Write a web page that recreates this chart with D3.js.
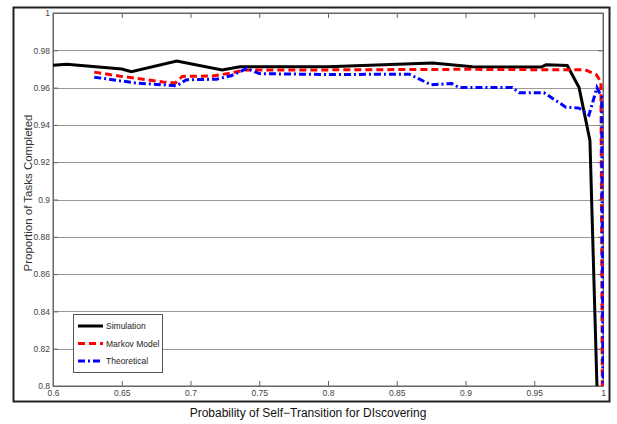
<!DOCTYPE html>
<html>
  <head>
    <script type="text/javascript" src="https://cdn.jsdelivr.net/npm/d3@7"></script>
    <style>
      body { margin: 0; background: #fff; }
      text { font-family: "Liberation Sans", Arial, sans-serif; }
    </style>
  </head>
  <body>
  <script type='text/javascript'>

    // data: [x, proportion]
    var simulation = [[0.6,0.9720],[0.61,0.9725],[0.65,0.9700],[0.657,0.9685],[0.69,0.9742],
      [0.723,0.9695],[0.736,0.9712],[0.80,0.9712],[0.876,0.9732],[0.905,0.9712],[0.955,0.9710],
      [0.9586,0.9722],[0.974,0.9718],[0.9826,0.960],[0.9905,0.9317],[0.9956,0.80]];
    var markov = [[0.63,0.9683],[0.65,0.9660],[0.68,0.9630],[0.689,0.9625],[0.694,0.9660],
      [0.716,0.9662],[0.731,0.968],[0.74,0.9695],[0.8,0.9695],[0.9,0.9698],[0.987,0.9695],
      [0.995,0.967],[0.9985,0.963],[0.9995,0.8]];
    var theoretical = [[0.63,0.9656],[0.66,0.9625],[0.69,0.9610],[0.697,0.9642],[0.719,0.9645],
      [0.73,0.9665],[0.741,0.9703],[0.750,0.9675],[0.80,0.9670],[0.859,0.9672],[0.875,0.9615],
      [0.89,0.9622],[0.8955,0.960],[0.934,0.960],[0.939,0.9573],[0.957,0.9573],[0.973,0.9495],
      [0.9826,0.949],[0.9898,0.9453],[0.9956,0.960],[0.999,0.955],[1.0,0.8]];
    var xTicks = [0.6,0.65,0.7,0.75,0.8,0.85,0.9,0.95,1];
    var yTicks = [0.8,0.82,0.84,0.86,0.88,0.9,0.92,0.94,0.96,0.98,1];
    var seriesNames = ["Simulation","Markov Model","Theoretical"];

    var W = 617, H = 424;
    var plotLeft = 53, plotRight = 603, plotTop = 13, plotBottom = 386;

    var svg = d3.select("body").append("svg")
        .attr("width", W)
        .attr("height", H);

    // outer figure frame
    svg.append("rect")
        .attr("x", 13.5).attr("y", 7.5)
        .attr("width", 596).attr("height", 394)
        .attr("fill", "#fff")
        .attr("stroke", "#222")
        .attr("stroke-width", 2);

    var x = d3.scaleLinear().domain([0.6, 1]).range([plotLeft, plotRight]);
    var y = d3.scaleLinear().domain([0.8, 1]).range([plotBottom, plotTop]);

    // horizontal grid
    svg.append("g").selectAll("line").data(yTicks.slice(1, -1)).enter()
      .append("line")
        .attr("x1", plotLeft).attr("x2", plotRight)
        .attr("y1", function(d){ return Math.round(y(d)) + 0.5; })
        .attr("y2", function(d){ return Math.round(y(d)) + 0.5; })
        .attr("stroke", "#999")
        .attr("stroke-width", 1);

    var fmt = function(d){ return d3.format("")(+d.toFixed(2)); };

    // axes, ticks pointing inward
    var xAxis = svg.append("g")
        .attr("transform", "translate(0," + plotBottom + ")")
        .call(d3.axisBottom(x).tickValues(xTicks).tickSizeInner(-5).tickSizeOuter(0).tickFormat(fmt));
    svg.append("g")
        .attr("transform", "translate(0," + plotTop + ")")
        .call(d3.axisTop(x).tickValues(xTicks).tickSizeInner(-5).tickSizeOuter(0).tickFormat(""));
    var yAxis = svg.append("g")
        .attr("transform", "translate(" + plotLeft + ",0)")
        .call(d3.axisLeft(y).tickValues(yTicks).tickSizeInner(-5).tickSizeOuter(0).tickFormat(fmt));
    svg.append("g")
        .attr("transform", "translate(" + plotRight + ",0)")
        .call(d3.axisRight(y).tickValues(yTicks).tickSizeInner(-5).tickSizeOuter(0).tickFormat(""));

    svg.selectAll(".domain").attr("stroke", "#666");
    svg.selectAll(".tick line").attr("stroke", "#666");
    svg.selectAll(".tick text")
        .attr("fill", "#444")
        .style("font-size", "8.5px");
    xAxis.selectAll(".tick text").attr("y", 4).attr("dy", "0.71em");
    yAxis.selectAll(".tick text").attr("x", -3);

    // plot box
    svg.append("rect")
        .attr("x", plotLeft).attr("y", plotTop)
        .attr("width", plotRight - plotLeft).attr("height", plotBottom - plotTop)
        .attr("fill", "none")
        .attr("stroke", "#666");

    svg.append("clipPath").attr("id", "clip")
      .append("rect")
        .attr("x", plotLeft).attr("y", plotTop)
        .attr("width", plotRight - plotLeft + 1).attr("height", plotBottom - plotTop);

    var line = d3.line()
        .x(function(d){ return x(d[0]); })
        .y(function(d){ return y(d[1]); });

    var styles = [
      {color: "#000", dash: null, width: 3},
      {color: "#f00", dash: "7,4", width: 3},
      {color: "#00f", dash: "7,3,2,3", width: 3}
    ];
    var allSeries = [simulation, markov, theoretical];

    var plot = svg.append("g").attr("clip-path", "url(#clip)");
    allSeries.forEach(function(s, i){
      plot.append("path")
          .datum(s)
          .attr("d", line)
          .attr("fill", "none")
          .attr("stroke", styles[i].color)
          .attr("stroke-width", styles[i].width)
          .attr("stroke-dasharray", styles[i].dash);
    });

    // legend
    var lg = svg.append("g");
    lg.append("rect")
        .attr("x", 73.5).attr("y", 314.5)
        .attr("width", 89).attr("height", 58)
        .attr("fill", "#fff")
        .attr("stroke", "#555");
    seriesNames.forEach(function(name, i){
      var ly = 326 + i * 17.5;
      lg.append("line")
          .attr("x1", 78).attr("x2", 103)
          .attr("y1", ly).attr("y2", ly)
          .attr("stroke", styles[i].color)
          .attr("stroke-width", styles[i].width)
          .attr("stroke-dasharray", styles[i].dash);
      lg.append("text")
          .attr("x", 106).attr("y", ly + 3)
          .attr("fill", "#222")
          .style("font-size", "8.5px")
          .text(name);
    });

    // axis labels
    svg.append("text")
        .attr("x", 308).attr("y", 417)
        .attr("text-anchor", "middle")
        .attr("fill", "#111")
        .style("font-size", "12px")
        .text("Probability of Self\u2212Transition for DIscovering");

    svg.append("text")
        .attr("transform", "translate(32,193) rotate(-90)")
        .attr("text-anchor", "middle")
        .attr("fill", "#333")
        .style("font-size", "11.5px")
        .text("Proportion of Tasks Completed");

  </script>
  </body>
</html>
